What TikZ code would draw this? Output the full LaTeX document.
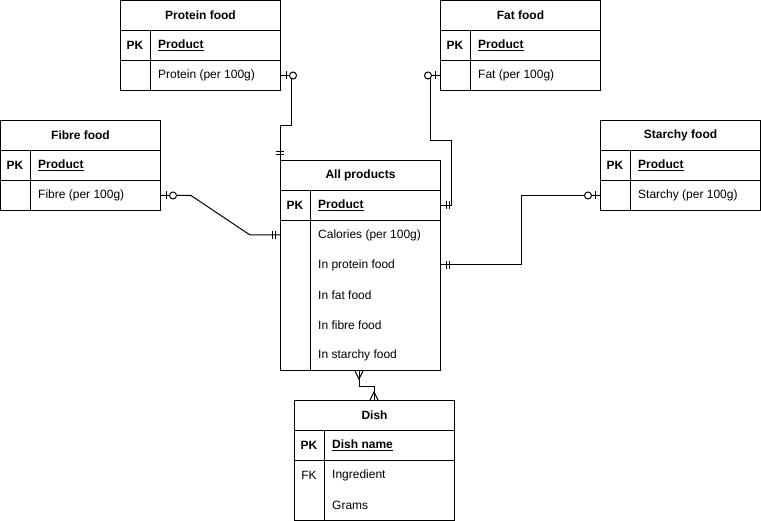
\documentclass[tikz,border=0pt]{standalone}
\usepackage{fontspec}
\setmainfont{Liberation Sans}
\usetikzlibrary{calc}
\newcommand\erfont{\fontsize{12}{14}\selectfont}
\tikzset{
  base/.style={rectangle, draw, line width=1pt, minimum width=160pt, anchor=north west, inner sep=0pt},
  hdr/.style={base, minimum height=30pt, font=\erfont\bfseries},
  cell/.style={base, minimum height=30pt},
  key/.style={anchor=center, inner sep=0pt},
  fld/.style={anchor=west, inner sep=0pt},
  boldtxt/.style={font=\erfont\bfseries},
  conn/.style={line width=1pt},
  pics/mandone/.style={code={\draw[conn] (-5,-4)--(-5,4); \draw[conn] (-8,-4)--(-8,4);}},
  pics/zeroone/.style={code={\draw[conn] (-5,-4)--(-5,4); \draw[conn,fill=white] (-12,0) circle (3.5);}},
  pics/crow/.style={code={\draw[conn] (0,-4)--(-8,0)--(0,4); \draw[conn] (0,0)--(-8,0);}}
}
\newcommand\simpletable[6]{%
  \node[hdr] (#1-title) at (#2,{-(#3)}) {#4};
  \node[cell] (#1-pk) at (#2,{-(#3)-30}) {};
  \node[cell] (#1-attr) at (#2,{-(#3)-60}) {};
  \draw[line width=1pt] ($(#1-pk.north west)+(30,0)$) -- ($(#1-attr.south west)+(30,0)$);
  \node[key,boldtxt] (#1-pkk) at ($(#1-pk.west)+(15,0)$) {PK};
  \node[fld,boldtxt] (#1-pkf) at ($(#1-pk.west)+(38,0)$) {\underline{#5}};
  \node[fld] (#1-af) at ($(#1-attr.west)+(38,0)$) {#6};
}
\begin{document}
\begin{tikzpicture}[x=1pt,y=1pt,font=\erfont]
\useasboundingbox (0,0) rectangle (761,-521);

\simpletable{protein}{120}{0}{Protein food}{Product}{Protein (per 100g)}
\simpletable{fat}{440}{0}{Fat food}{Product}{Fat (per 100g)}
\simpletable{fibre}{0}{120}{Fibre food}{Product}{Fibre (per 100g)}
\simpletable{starchy}{600}{120}{Starchy food}{Product}{Starchy (per 100g)}

% All products
\node[hdr] (allp-title) at (280,-160) {All products};
\node[cell] (allp-pk) at (280,-190) {};
\node[base, minimum height=150pt] (allp-attr) at (280,-220) {};
\draw[line width=1pt] ($(allp-pk.north west)+(30,0)$) -- ($(allp-attr.south west)+(30,0)$);
\node[key,boldtxt] (allp-pkk) at ($(allp-pk.west)+(15,0)$) {PK};
\node[fld,boldtxt] (allp-pkf) at ($(allp-pk.west)+(38,0)$) {\underline{Product}};
\node[fld] (allp-cal) at (318,-235) {Calories (per 100g)};
\node[fld] (allp-inprot) at (318,-265) {In protein food};
\node[fld] (allp-infat) at (318,-295) {In fat food};
\node[fld] (allp-infib) at (318,-325) {In fibre food};
\node[fld] (allp-instar) at (318,-355) {In starchy food};

% Dish
\node[hdr] (dish-title) at (294,-400) {Dish};
\node[cell] (dish-pk) at (294,-430) {};
\node[base, minimum height=60pt] (dish-attr) at (294,-460) {};
\draw[line width=1pt] ($(dish-pk.north west)+(30,0)$) -- ($(dish-attr.south west)+(30,0)$);
\node[key,boldtxt] (dish-pkk) at ($(dish-pk.west)+(15,0)$) {PK};
\node[fld,boldtxt] (dish-pkf) at ($(dish-pk.west)+(38,0)$) {\underline{Dish name}};
\node[key] (dish-fkk) at (309,-475) {FK};
\node[fld] (dish-ing) at (332,-475) {Ingredient};
\node[fld] (dish-gram) at (332,-505) {Grams};

% connectors
\coordinate (allp-bot) at ($(allp-attr.south west)+(79,0)$);
\coordinate (dish-top) at ($(dish-title.north west)+(80,0)$);
\draw[conn] (protein-attr.east) -| ($(protein-attr.east)+(10,-50)$) -| (allp-title.north west);
\draw[conn] (fat-attr.west) -| ($(fat-attr.west)+(-10,-65)$) -| ($(allp-pk.east)+(10,0)$) -- (allp-pk.east);
\draw[conn] (fibre-attr.east) -- ++(30,0) -- ($(allp-attr.west |- allp-cal)+(-30,0)$) -- (allp-attr.west |- allp-cal);
\draw[conn] (allp-attr.east |- allp-inprot) -- ($(allp-attr.east |- allp-inprot)+(80,0)$) |- (starchy-attr.west);
\draw[conn] (allp-bot) -- ++(0,-16) -| (dish-top);

% end marks
\pic[rotate=180] at (protein-attr.east) {zeroone};
\pic[rotate=-90] at (allp-title.north west) {mandone};
\pic at (fat-attr.west) {zeroone};
\pic[rotate=180] at (allp-pk.east) {mandone};
\pic[rotate=180] at (fibre-attr.east) {zeroone};
\pic at (allp-attr.west |- allp-cal) {mandone};
\pic[rotate=180] at (allp-attr.east |- allp-inprot) {mandone};
\pic at (starchy-attr.west) {zeroone};
\pic[rotate=90] at (allp-bot) {crow};
\pic[rotate=-90] at (dish-top) {crow};
\end{tikzpicture}
\end{document}
